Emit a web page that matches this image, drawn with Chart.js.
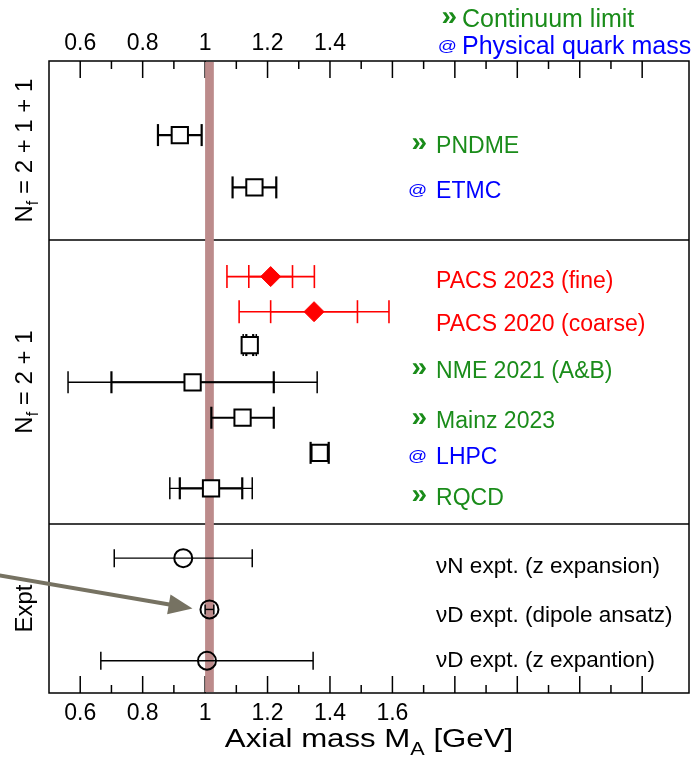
<!DOCTYPE html>
<html>
<head>
<meta charset="utf-8">
<script src="https://cdn.jsdelivr.net/npm/chart.js@4.4.1/dist/chart.umd.min.js"></script>
<style>
  body { margin: 0; background: #fff; }
  #wrap { width: 694px; height: 764px; }
</style>
</head>
<body>
<div id="wrap"><canvas id="ma-chart" width="694" height="764"></canvas></div>
<script>
// Axial mass M_A: lattice results (Nf = 2+1+1, 2+1) against neutrino scattering fits
var pointNames = ['PNDME', 'ETMC', 'PACS 2023 (fine)', 'PACS 2020 (coarse)', 'NME 2021 A', 'NME 2021 B',
    'Mainz 2023', 'LHPC', 'RQCD', 'nuN z-exp', 'nuD dipole', 'nuD z-exp'];
var pointKind = ['sq', 'sq', 'dia', 'dia', 'sq', 'sq', 'sq', 'sq', 'sq', 'circ', 'circ', 'circ'];
var central  = [0.919, 1.158, 1.210, 1.349, 1.143, 0.960, 1.120, 1.367, 1.019, 0.930, 1.014, 1.006];
var errStat  = [null, null, 0.070, 0.139, 0.011, 0.260, null, null, 0.100, null, null, null];
var errTotal = [0.070, 0.070, 0.140, 0.240, 0.021, 0.399, 0.100, 0.029, 0.132, 0.221, 0.014, 0.340];
// vertical slot of each result (0 = top of the frame)
var rowPos = [2.11, 3.60, 6.14, 7.14, 8.09, 9.15, 10.16, 11.16, 12.17, 14.16, 15.62, 17.08];
var panelBreaks = [5.10, 13.19];
var panelNames = [' = 2 + 1 + 1', ' = 2 + 1', 'Expt'];

var labelText = ['PNDME', 'ETMC', 'PACS 2023 (fine)', 'PACS 2020 (coarse)', 'NME 2021 (A&B)', 'Mainz 2023',
    'LHPC', 'RQCD', '\u03bdN expt. (z expansion)', '\u03bdD expt. (dipole ansatz)', '\u03bdD expt. (z expantion)'];
var labelKind = ['cont', 'phys', 'pacs', 'pacs', 'cont', 'cont', 'phys', 'cont', 'expt', 'expt', 'expt'];

// vertical band: nuD dipole value
var bandCenter = 1.014;
var bandHalf = 0.014;

var topLabelMax = 1.4;
var bottomLabelMax = 1.6;

// ---- drawing setup ----
var FONT = "'Liberation Sans', Arial, Helvetica, sans-serif";
var GREEN = '#1a8c1a', BLUE = '#0000ff', RED = '#ff0000';
Chart.defaults.font.family = FONT;

var kindColor = { cont: GREEN, phys: BLUE, pacs: RED, expt: '#000' };
var labelPos = [2.63, 3.91, 6.47, 7.69, 9.04, 10.46, 11.47, 12.65, 14.59, 15.97, 17.25];
var labelX = 1.74;

var marker = {
    sq:   { color: '#000', style: 'rect', radius: 11.5, fill: '#fff', border: 2, bar: 2.2, thin: 1.3, cap: 11 },
    dia:  { color: RED, style: 'rectRot', radius: 10, fill: RED, border: 1, bar: 1.6, thin: 1.6, cap: 11.5 },
    circ: { color: '#000', style: 'circle', radius: 9, fill: 'rgba(0,0,0,0)', border: 2, bar: 1.4, thin: 1.4, cap: 9 }
};

function barSet(c, e, y, m, width, cap, order) {
    return {
        data: [{ x: c - e, y: y }, { x: c + e, y: y }],
        showLine: true,
        borderColor: m.color,
        borderWidth: width,
        pointStyle: 'line',
        pointRotation: 90,
        pointRadius: cap,
        pointBorderWidth: Math.max(width, 1.5),
        pointBorderColor: m.color,
        pointBackgroundColor: m.color,
        order: order
    };
}

var datasets = [];
central.forEach(function (c, i) {
    var m = marker[pointKind[i]];
    var y = rowPos[i];
    var cap = errTotal[i] < 0.02 && pointKind[i] === 'circ' ? 5 : m.cap;
    var hasStat = errStat[i] !== null;
    datasets.push(barSet(c, errTotal[i], y, m, hasStat ? m.thin : m.bar, cap, 2));
    if (hasStat) datasets.push(barSet(c, errStat[i], y, m, m.bar, cap, 1));
    datasets.push({
        data: [{ x: c, y: y }],
        pointStyle: m.style,
        pointRadius: m.radius,
        pointBackgroundColor: m.fill,
        pointBorderColor: m.color,
        pointBorderWidth: m.border,
        order: 0
    });
});

function tickLabel(limit) {
    return function (value) {
        var k = Math.round(value * 10);
        if (k % 2 !== 0 || k < 6 || k > Math.round(limit * 10)) return '';
        return String(k / 10);
    };
}

function line(ctx, x0, y0, x1, y1) {
    ctx.beginPath();
    ctx.moveTo(x0, y0);
    ctx.lineTo(x1, y1);
    ctx.stroke();
}

// text pieces [text, size, dy] laid out left to right from x
function runs(ctx, parts, x) {
    parts.forEach(function (p) {
        ctx.font = p[1] + 'px ' + FONT;
        ctx.fillText(p[0], x, p[2]);
        x += ctx.measureText(p[0]).width;
    });
}

function runsWidth(ctx, parts) {
    var w = 0;
    parts.forEach(function (p) { ctx.font = p[1] + 'px ' + FONT; w += ctx.measureText(p[0]).width; });
    return w;
}

// rotated panel title, N with subscript f
function panelTitle(ctx, name, bx, cy) {
    var parts = name === 'Expt' ? [['Expt', 24, 0]] : [['N', 24, 0], ['f', 16, 6], [name, 24, 0]];
    var total = runsWidth(ctx, parts);
    ctx.save();
    ctx.translate(bx, cy);
    ctx.rotate(-Math.PI / 2);
    ctx.fillStyle = '#000';
    ctx.textBaseline = 'alphabetic';
    ctx.textAlign = 'left';
    runs(ctx, parts, -total / 2);
    ctx.restore();
}

// ">>" for continuum limit, "@" for physical quark mass
function tag(ctx, kind, rx, base) {
    ctx.save();
    ctx.textAlign = 'right';
    if (kind === 'cont') {
        ctx.font = 'bold 28px ' + FONT;
        ctx.fillStyle = GREEN;
        ctx.fillText('\u00bb', rx + 1, base - 2);
    } else if (kind === 'phys') {
        ctx.translate(rx + 1, base - 7);
        ctx.scale(1.05, 0.78);
        ctx.font = '18px ' + FONT;
        ctx.fillStyle = BLUE;
        ctx.textBaseline = 'middle';
        ctx.fillText('@', 0, 0);
    }
    ctx.restore();
}

var decor = {
    id: 'decor',
    beforeDatasetsDraw: function (chart) {
        var ctx = chart.ctx, ca = chart.chartArea;
        var xs = chart.scales.x, ys = chart.scales.y;
        ctx.save();
        ctx.strokeStyle = '#000';
        ctx.lineWidth = 1.5;
        panelBreaks.forEach(function (b) {
            var py = ys.getPixelForValue(b);
            line(ctx, ca.left, py, ca.right, py);
        });
        // inward tick marks on top and bottom edges
        xs.ticks.forEach(function (t) {
            var k = Math.round(t.value * 10);
            if (k / 10 <= xs.min || k / 10 >= xs.max) return;
            var px = xs.getPixelForValue(k / 10);
            var len = k % 2 === 0 ? 17 : 8;
            line(ctx, px, ca.top, px, ca.top + len);
            line(ctx, px, ca.bottom, px, ca.bottom - len);
        });
        ctx.strokeRect(ca.left, ca.top, ca.right - ca.left, ca.bottom - ca.top);
        // band
        var x0 = xs.getPixelForValue(bandCenter - bandHalf);
        var x1 = xs.getPixelForValue(bandCenter + bandHalf);
        ctx.fillStyle = '#bc8b8b';
        ctx.fillRect(x0, ca.top + 1, x1 - x0, ca.bottom - ca.top - 2);
        ctx.restore();
    },
    afterDraw: function (chart) {
        var ctx = chart.ctx, ca = chart.chartArea;
        var xs = chart.scales.x, ys = chart.scales.y;
        ctx.save();
        ctx.textBaseline = 'alphabetic';
        ctx.textAlign = 'left';

        // result labels
        var lx = xs.getPixelForValue(labelX);
        labelText.forEach(function (t, i) {
            var base = ys.getPixelForValue(labelPos[i]);
            var kind = labelKind[i];
            tag(ctx, kind, lx - 10, base);
            ctx.fillStyle = kindColor[kind];
            ctx.font = (kind === 'expt' ? 22.5 : 23) + 'px ' + FONT;
            ctx.fillText(t, lx, base);
        });

        // header key
        tag(ctx, 'cont', 456, 26.5);
        tag(ctx, 'phys', 456, 54);
        ctx.font = '25px ' + FONT;
        ctx.fillStyle = GREEN;
        ctx.fillText('Continuum limit', 462, 26.5);
        ctx.fillStyle = BLUE;
        ctx.fillText('Physical quark mass', 462, 54);

        // panel titles, centred in each panel
        var edges = [ys.min].concat(panelBreaks, [ys.max]);
        panelNames.forEach(function (n, i) {
            var cy = (ys.getPixelForValue(edges[i]) + ys.getPixelForValue(edges[i + 1])) / 2;
            panelTitle(ctx, n, 32, cy);
        });

        // axis title with subscript, slightly stretched
        var parts = [['Axial mass M', 26, 0], ['A', 18, 8], [' [GeV]', 26, 0]];
        var total = runsWidth(ctx, parts);
        ctx.save();
        ctx.translate((ca.left + ca.right) / 2, 746.5);
        ctx.scale(1.2, 1);
        ctx.fillStyle = '#000';
        runs(ctx, parts, -total / 2);
        ctx.restore();

        // arrow pointing at the dipole result
        var di = pointNames.indexOf('nuD dipole');
        var tx = xs.getPixelForValue(central[di]) - 17;
        var ty = ys.getPixelForValue(rowPos[di]) - 1;
        var dx = 193, dy = 33;
        var len = Math.sqrt(dx * dx + dy * dy);
        var ux = dx / len, uy = dy / len;
        var head = 24, half = 10;
        var bx = tx - ux * head, by = ty - uy * head;
        ctx.strokeStyle = '#767262';
        ctx.fillStyle = '#767262';
        ctx.lineWidth = 4;
        line(ctx, tx - ux * 210, ty - uy * 210, bx + ux * 2, by + uy * 2);
        ctx.beginPath();
        ctx.moveTo(tx, ty);
        ctx.lineTo(bx - uy * half, by + ux * half);
        ctx.lineTo(bx + uy * half, by - ux * half);
        ctx.closePath();
        ctx.fill();

        ctx.restore();
    }
};

function fixHeight(h) {
    return function (s) {
        s.height = h;
        s.paddingLeft = 0;
        s.paddingRight = 0;
    };
}

var axisBase = {
    type: 'linear',
    min: 0.5,
    max: 2.55,
    grid: { display: false, drawTicks: false },
    border: { display: false }
};

new Chart(document.getElementById('ma-chart').getContext('2d'), {
    type: 'scatter',
    data: { datasets: datasets },
    options: {
        responsive: false,
        animation: false,
        layout: { autoPadding: false, padding: { left: 49, right: 5, top: 0, bottom: 0 } },
        plugins: { legend: { display: false }, tooltip: { enabled: false } },
        scales: {
            x: Object.assign({}, axisBase, {
                position: 'bottom',
                afterFit: fixHeight(71),
                ticks: { stepSize: 0.1, autoSkip: false, maxRotation: 0, padding: 7, color: '#000',
                    font: { size: 23 }, callback: tickLabel(bottomLabelMax) }
            }),
            xTop: Object.assign({}, axisBase, {
                position: 'top',
                afterFit: fixHeight(61),
                ticks: { stepSize: 0.1, autoSkip: false, maxRotation: 0, padding: 4, color: '#000',
                    font: { size: 23 }, callback: tickLabel(topLabelMax) }
            }),
            y: { type: 'linear', display: false, min: 0, max: 18, reverse: true }
        }
    },
    plugins: [decor]
});
</script>
</body>
</html>
